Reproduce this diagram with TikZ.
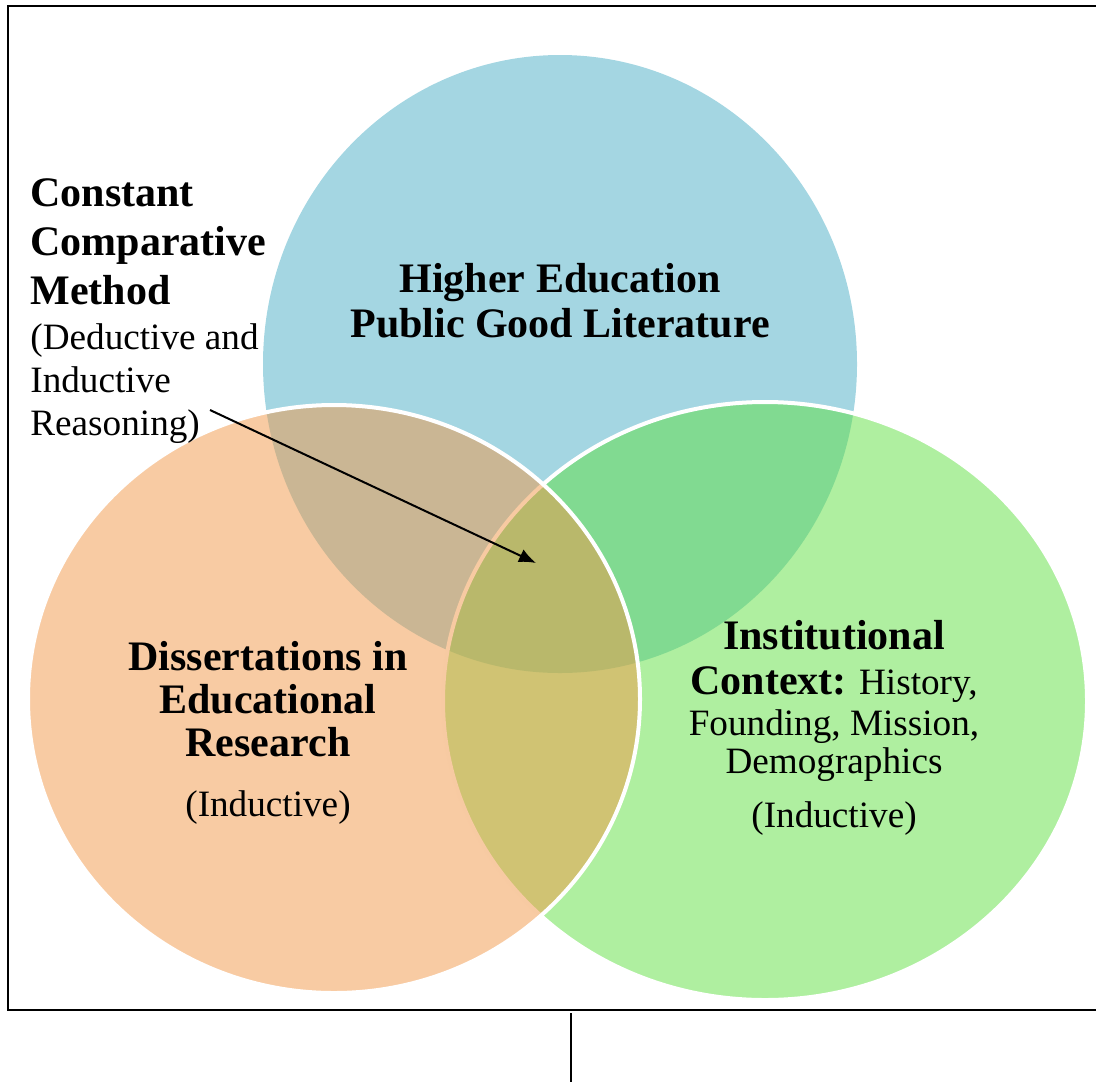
\documentclass[tikz,border=0pt]{standalone}
\usepackage{fontspec}
\setmainfont{Liberation Serif}
\usepackage{tikz}
\usetikzlibrary{arrows.meta, shapes.geometric}
\definecolor{litblue}{RGB}{73,173,197}
\definecolor{litorange}{RGB}{241,151,71}
\definecolor{litgreen}{RGB}{95,223,65}
\newcommand{\headfont}{\fontsize{21}{21.5}\selectfont\bfseries}
\newcommand{\bodyfont}{\fontsize{18.6}{21.5}\selectfont}
\tikzset{venn/.style = {shape=ellipse,inner sep=0pt,fill opacity=0.5}}
\tikzset{rim/.style = {draw=white,line width=2pt}}
\tikzset{txt/.style = {inner sep=0pt,align=center}}
\tikzset{edge/.style = {-{Latex[length=8.5pt,width=7pt]},line width=1pt}}

\begin{document}
\begin{tikzpicture}[x=0.5pt,y=-0.5pt]
                \clip (0,0) rectangle (1096,1082);
                \node[venn,fill=litblue,minimum width=297pt,minimum height=309pt] (p) at (560,364) {};
                \node[venn,rim,fill=litgreen,minimum width=322pt,minimum height=299pt] (c) at (765,701) {};
                \node[venn,rim,fill=litorange,minimum width=306pt,minimum height=294pt] (d) at (334,699) {};
                \draw[line width=1pt] (8,6) rectangle (1110,1010);
                \node[txt,font=\headfont] (pt) at (560,301) {Higher Education\\[1pt]Public Good Literature};
                \node[txt,anchor=north,font=\headfont] (dt) at (268,641) {Dissertations in\\Educational\\Research\\[8.5pt]{\bodyfont\mdseries (Inductive)}};
                \node[txt,anchor=north,font=\bodyfont] (ct) at (834,620) {{\headfont Institutional}\\[1pt]{\headfont Context:} History,\\[-1pt]Founding, Mission,\\[-2.5pt]Demographics\\[5.5pt](Inductive)};
                \node[txt,align=left,anchor=north west,font=\bodyfont] (m) at (30,178) {{\headfont Constant}\\[3pt]{\headfont Comparative}\\[3pt]{\headfont Method}\\[1pt](Deductive and\\Inductive\\Reasoning)};
                \coordinate (s) at (210,410);
                \coordinate (t) at (536,563);
                \draw[edge] (s) -- (t);
                \coordinate (u) at (571,1013);
                \coordinate (v) at (571,1082);
                \draw[line width=1.2pt] (u) -- (v);
            \end{tikzpicture}
\end{document}
